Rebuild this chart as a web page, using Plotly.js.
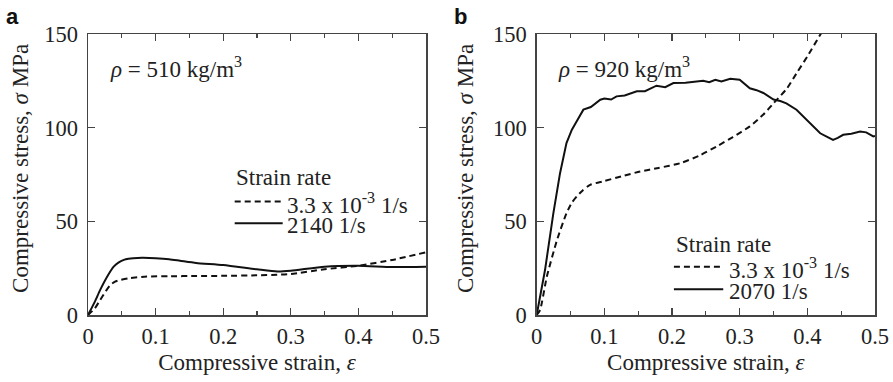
<!DOCTYPE html>
<html>
<head>
<meta charset="utf-8">
<script src="https://cdn.plot.ly/plotly-3.0.1.min.js"></script>
<style>html,body{margin:0;padding:0;background:#fff;}#chart{width:893px;height:382px;}</style>
</head>
<body>
<div id="chart"></div>
<script>
// Panel a (rho = 510 kg/m3)
const strainA_slow = [0, 0.01, 0.018, 0.025, 0.033, 0.04, 0.048, 0.06, 0.087, 0.12, 0.16, 0.2, 0.25, 0.28, 0.3, 0.35, 0.4, 0.45, 0.5];
const stressA_slow = [0, 3.5, 8, 12, 16, 17.8, 18.7, 19.6, 20.5, 20.7, 20.8, 20.9, 21.2, 21.5, 21.9, 24.4, 26.3, 29.4, 33.5];
const strainA_fast = [0, 0.01, 0.018, 0.03, 0.038, 0.045, 0.053, 0.06, 0.067, 0.08, 0.1, 0.12, 0.136, 0.16, 0.2, 0.25, 0.28, 0.3, 0.35, 0.4, 0.45, 0.5];
const stressA_fast = [0, 7, 13.4, 21.5, 25.8, 28, 29.4, 30, 30.3, 30.5, 30.3, 29.8, 29, 27.8, 26.7, 24.4, 23.2, 23.6, 25.8, 26.3, 25.6, 25.8];

// Panel b (rho = 920 kg/m3)
const strainB_slow = [0, 0.005, 0.015, 0.03, 0.044, 0.052, 0.059, 0.068, 0.079, 0.1, 0.125, 0.153, 0.18, 0.212, 0.24, 0.266, 0.29, 0.315, 0.335, 0.35, 0.37, 0.384, 0.4, 0.419, 0.43];
const stressB_slow = [0, 2.7, 20.5, 40, 54.3, 60, 63.2, 66.5, 69.5, 71.5, 74, 76.6, 78.5, 81, 85, 90, 95, 100.7, 107, 113, 121, 129, 138, 149.6, 156];
const strainB_fast = [0, 0.0123, 0.0246, 0.0345, 0.044, 0.052, 0.06, 0.069, 0.08, 0.094, 0.1, 0.11, 0.118, 0.13, 0.148, 0.16, 0.177, 0.19, 0.202, 0.22, 0.246, 0.255, 0.264, 0.273, 0.286, 0.3, 0.315, 0.325, 0.335, 0.35, 0.36, 0.369, 0.384, 0.404, 0.419, 0.43, 0.438, 0.445, 0.453, 0.465, 0.478, 0.487, 0.4975, 0.5];
const stressB_fast = [0, 24, 54.3, 75.7, 91.8, 98.9, 104, 109.6, 111, 114.9, 115.5, 115, 116.7, 117.2, 119.4, 119.5, 122.4, 121.6, 123.8, 124, 125, 124.3, 125.6, 124.7, 126.1, 125.6, 121, 120, 118.5, 115, 114.2, 113, 109.6, 102.4, 97, 95, 93.5, 94.5, 96.2, 96.8, 98, 97.5, 95.3, 95.5];

// Text
const panelLabels = ['a', 'b'];
const densityLabels = ['<i>ρ</i> = 510 kg/m<sup>3</sup>', '<i>ρ</i> = 920 kg/m<sup>3</sup>'];
const legendTitle = 'Strain rate';
const slowLabel = '3.3 x 10<sup>-3</sup> 1/s';
const fastLabels = ['2140 1/s', '2070 1/s'];
const xTitle = 'Compressive strain, <i>ε</i>';
const yTitle = 'Compressive stress, <i>σ</i> MPa';
const xTickVals = [0, 0.1, 0.2, 0.3, 0.4, 0.5];
const xTickText = ['0', '0.1', '0.2', '0.3', '0.4', '0.5'];
const yTickVals = [0, 50, 100, 150];

const SERIF = 'Liberation Serif';
const SANS = 'Liberation Sans';
const FS = 23;
const TXT = '#222';
const LINE = '#111';
const DASH = '6px,4px';

const traces = [
  {x: strainA_slow, y: stressA_slow, xaxis: 'x', yaxis: 'y', mode: 'lines', line: {color: LINE, width: 2, dash: DASH, shape: 'spline', smoothing: 0.6}, name: slowLabel},
  {x: strainA_fast, y: stressA_fast, xaxis: 'x', yaxis: 'y', mode: 'lines', line: {color: LINE, width: 2, shape: 'spline', smoothing: 0.6}, name: fastLabels[0]},
  {x: strainB_slow, y: stressB_slow, xaxis: 'x2', yaxis: 'y2', mode: 'lines', line: {color: LINE, width: 2, dash: DASH, shape: 'spline', smoothing: 0.6}, name: slowLabel},
  {x: strainB_fast, y: stressB_fast, xaxis: 'x2', yaxis: 'y2', mode: 'lines', line: {color: LINE, width: 2}, name: fastLabels[1]}
];

function xa(domain, anchor) {
  return {
    domain: domain, anchor: anchor, range: [0, 0.5],
    tickmode: 'array', tickvals: xTickVals, ticktext: xTickText,
    ticks: 'inside', ticklen: 7, tickwidth: 1.2, tickcolor: '#444',
    minor: {dtick: 0.05, ticks: 'inside', ticklen: 4, tickwidth: 1.2, tickcolor: '#444'},
    showline: true, linecolor: '#444', linewidth: 1.5, mirror: 'ticks',
    showgrid: false, zeroline: false,
    tickfont: {family: SERIF, size: FS - 0.5, color: TXT},
    title: {text: xTitle, font: {family: SERIF, size: FS, color: TXT}, standoff: 6},
    automargin: false
  };
}
function ya(anchor) {
  return {
    domain: [0, 1], anchor: anchor, range: [0, 150],
    tickmode: 'array', tickvals: yTickVals,
    ticks: 'inside', ticklen: 7, tickwidth: 1.2, tickcolor: '#444',
    showline: true, linecolor: '#444', linewidth: 1.5, mirror: 'ticks',
    showgrid: false, zeroline: false,
    ticklabelstandoff: 4,
    tickfont: {family: SERIF, size: FS - 0.5, color: TXT},
    automargin: false
  };
}

const annotations = [];
const shapes = [];
const legendPos = [
  {ax: 'x', ay: 'y', tx: 0.216, ty: 73.5, x0: 0.217, x1: 0.288, yd: 60.6, ys: 49.0, lx: 0.292},
  {ax: 'x2', ay: 'y2', tx: 0.2028, ty: 37.9, x0: 0.2028, x1: 0.2757, yd: 25.8, ys: 13.7, lx: 0.2806}
];
legendPos.forEach((p, i) => {
  annotations.push({xref: p.ax, yref: p.ay, x: p.tx, y: p.ty, text: legendTitle, showarrow: false, xanchor: 'left', yanchor: 'middle', font: {family: SERIF, size: FS, color: TXT}});
  annotations.push({xref: p.ax, yref: p.ay, x: p.lx, y: p.yd - 1, text: slowLabel, showarrow: false, xanchor: 'left', yanchor: 'middle', font: {family: SERIF, size: FS, color: TXT}});
  annotations.push({xref: p.ax, yref: p.ay, x: p.lx, y: p.ys - 1, text: fastLabels[i], showarrow: false, xanchor: 'left', yanchor: 'middle', font: {family: SERIF, size: FS, color: TXT}});
  shapes.push({type: 'line', xref: p.ax, yref: p.ay, x0: p.x0, x1: p.x1, y0: p.yd, y1: p.yd, line: {color: LINE, width: 2, dash: DASH}});
  shapes.push({type: 'line', xref: p.ax, yref: p.ay, x0: p.x0, x1: p.x1, y0: p.ys, y1: p.ys, line: {color: LINE, width: 2}});
  annotations.push({xref: p.ax, yref: p.ay, x: i === 0 ? 0.0295 : 0.0285, y: 132, text: densityLabels[i], showarrow: false, xanchor: 'left', yanchor: 'middle', font: {family: SERIF, size: FS, color: TXT}});
});
// y titles
annotations.push({xref: 'paper', yref: 'paper', x: (21 - 88) / 787, y: 0.52, text: yTitle, textangle: -90, showarrow: false, xanchor: 'center', yanchor: 'middle', font: {family: SERIF, size: FS, color: TXT}});
annotations.push({xref: 'paper', yref: 'paper', x: (466 - 88) / 787, y: 0.52, text: yTitle, textangle: -90, showarrow: false, xanchor: 'center', yanchor: 'middle', font: {family: SERIF, size: FS, color: TXT}});
// panel labels
annotations.push({xref: 'paper', yref: 'paper', x: (4 - 88) / 787, y: (315 - 2) / 281, text: '<b>' + panelLabels[0] + '</b>', showarrow: false, xanchor: 'left', yanchor: 'top', font: {family: SANS, size: 22, color: '#111'}});
annotations.push({xref: 'paper', yref: 'paper', x: (452 - 88) / 787, y: (315 - 2) / 281, text: '<b>' + panelLabels[1] + '</b>', showarrow: false, xanchor: 'left', yanchor: 'top', font: {family: SANS, size: 22, color: '#111'}});

const layout = {
  width: 893, height: 382,
  margin: {l: 88, r: 18, t: 34, b: 67},
  paper_bgcolor: '#fff', plot_bgcolor: '#fff',
  showlegend: false,
  font: {family: SERIF, size: FS, color: TXT},
  xaxis: xa([0, 338 / 787], 'y'),
  yaxis: ya('x'),
  xaxis2: xa([(536.7 - 88) / 787, 1], 'y2'),
  yaxis2: ya('x2'),
  annotations: annotations,
  shapes: shapes
};

Plotly.newPlot('chart', traces, layout, {staticPlot: true, displayModeBar: false});
</script>
</body>
</html>
